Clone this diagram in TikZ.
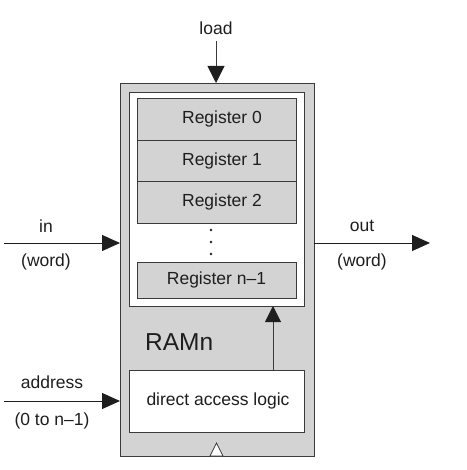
\documentclass[tikz,border=0pt]{standalone}
\usepackage{fontspec}
\setmainfont{Liberation Sans}
\usetikzlibrary{arrows.meta}
\definecolor{boxgray}{HTML}{D3D3D3}
\definecolor{edge}{HTML}{3A3A3A}
\definecolor{arrcol}{HTML}{1E1E1E}
\begin{document}
\begin{tikzpicture}[x=1pt,y=-1pt,
  box/.style={draw=edge,line width=0.9pt,inner sep=0pt,outer sep=0pt,anchor=north west},
  regbox/.style={box,fill=boxgray,minimum width=159pt},
  lbl/.style={font=\fontsize{17.5}{20}\selectfont,inner sep=0pt,text=arrcol},
  arr/.style={draw=arrcol,line width=1pt,-{Triangle[length=18pt,width=16pt]}}]
\useasboundingbox (0,0) rectangle (466,470);
% outer RAM box
\node[box,fill=boxgray,minimum width=194pt,minimum height=373pt] (ram) at (120,83) {};
% inner register file
\node[box,fill=white,minimum width=175pt,minimum height=214pt] (inner) at (129,92) {};
\node[regbox,minimum height=41.5pt] (r0) at (137,98.5) {};
\node[regbox,minimum height=41.5pt] (r1) at (137,140) {};
\node[regbox,minimum height=41.5pt] (r2) at (137,181.5) {};
\node[regbox,minimum height=36pt] (rn) at (137,262) {};
\node[lbl] (t0) at (222,119) {Register 0};
\node[lbl] (t1) at (222,160.5) {Register 1};
\node[lbl] (t2) at (222,202) {Register 2};
\node[lbl] (tn) at (216.5,280) {Register n–1};
% dots
\fill[arrcol] (211,230) circle (1.3pt) (211,242) circle (1.3pt) (211,254) circle (1.3pt);
% RAMn label
\node[font=\fontsize{24.5}{28}\selectfont,inner sep=0pt,anchor=west,text=arrcol] (ramlbl) at (145,342) {RAMn};
% direct access logic
\node[box,fill=white,minimum width=175pt,minimum height=62pt] (dal) at (129,370) {};
\node[lbl] (dalt) at (218,401) {direct access logic};
\path (dal.north east) ++(-31,0) coordinate (dalout);
\draw[arr,draw=edge,-{Triangle[length=16pt,width=16pt,color=arrcol]}] (dalout) -- (dalout |- inner.south);
% clock triangle
\draw[edge,line width=0.8pt,fill=white] (210,456) -- (216.5,443) -- (223,456) -- cycle;
% load
\node[lbl] (load) at (216,28) {load};
\coordinate (loadS) at (216,41);
\draw[arr,draw=edge,-{Triangle[length=17pt,width=17pt,color=arrcol]}] (loadS) -- (loadS |- ram.north);
% in
\coordinate (inS) at (4,243);
\draw[arr] (inS) -- (inS -| ram.west);
\node[lbl] (inl) at (46,226) {in};
\node[lbl] (inw) at (46,262) {(word)};
% address
\coordinate (adS) at (4,401);
\draw[arr] (adS) -- (adS -| ram.west);
\node[lbl] (adl) at (52,382) {address};
\node[lbl] (adr) at (52,421) {(0 to n–1)};
% out
\coordinate (outE) at (430,243);
\draw[arr] (outE -| ram.east) -- (outE);
\node[lbl] (outl) at (362,226) {out};
\node[lbl] (outw) at (362,262) {(word)};
\end{tikzpicture}
\end{document}
